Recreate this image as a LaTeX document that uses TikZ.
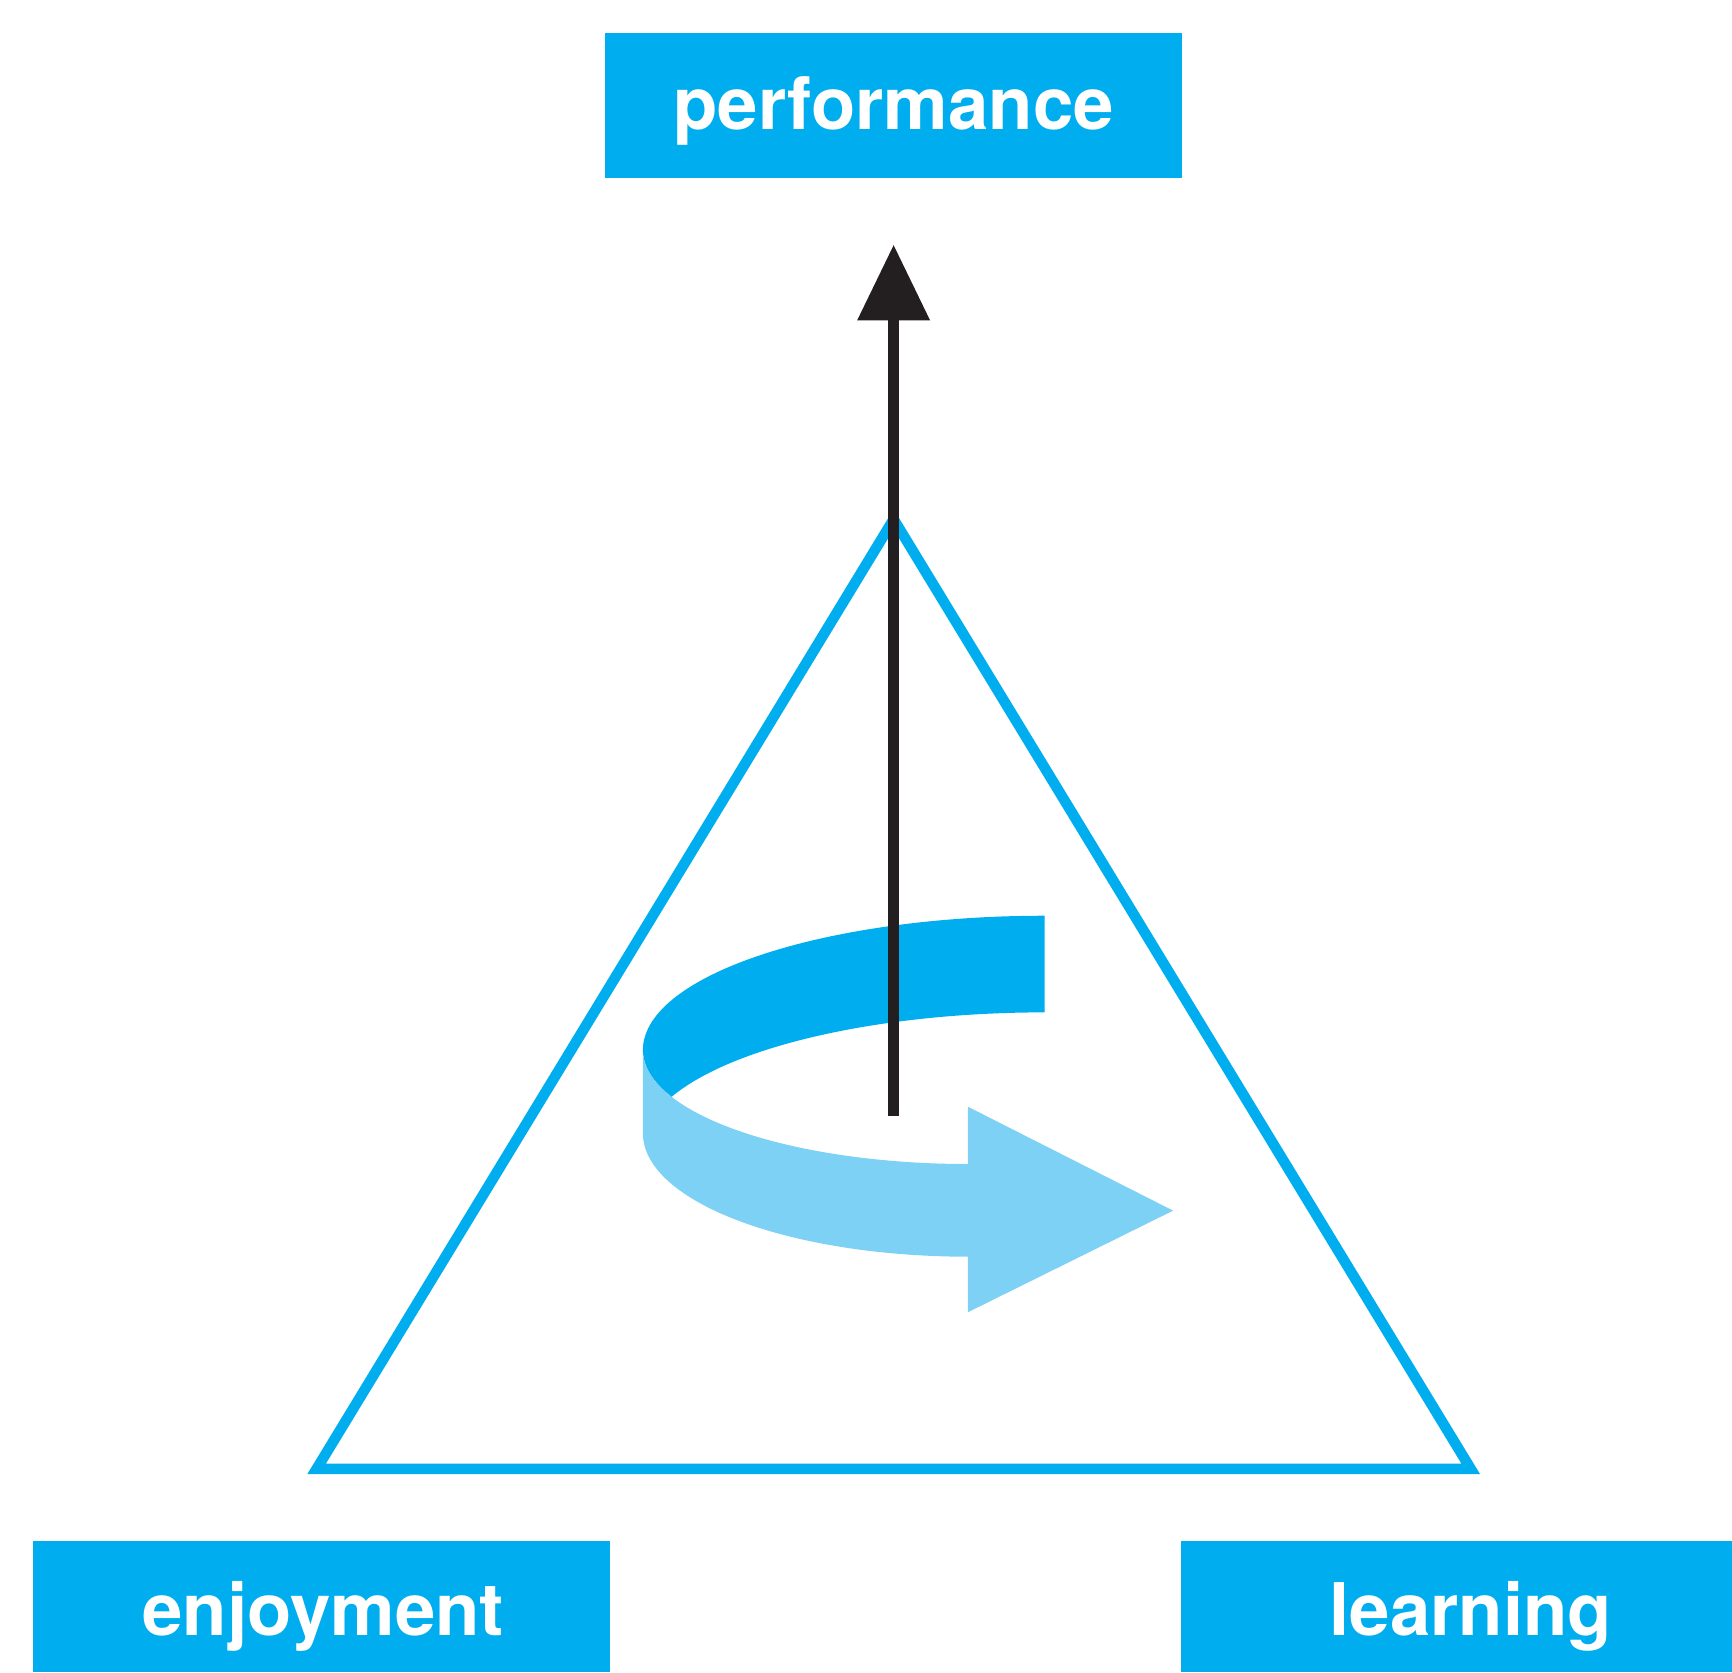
\documentclass[tikz,border=0pt]{standalone}
\usepackage{fontspec}
\setmainfont{TeX Gyre Heros}
\definecolor{cyanA}{HTML}{00AEEF}
\definecolor{cyanB}{HTML}{7CD1F5}
\definecolor{inkblack}{HTML}{231F20}
\begin{document}
\begin{tikzpicture}[x=1pt,y=-1pt,
  box/.style={fill=cyanA, inner sep=0pt, outer sep=0pt, rectangle},
  lbltext/.style={text=white, font=\fontsize{65.7}{70}\selectfont\bfseries, anchor=base, inner sep=0pt}]
\useasboundingbox (0,0) rectangle (1568,1514);
% boxes
\node[box, minimum width=522pt, minimum height=131pt] (perfbox) at (809,95.5) {};
\node[lbltext] (perftext) at (809,117) {performance};
\node[box, minimum width=522pt, minimum height=119pt] (enjbox) at (291,1454.5) {};
\node[lbltext] (enjtext) at (292.5,1481) {enjoyment};
\node[box, minimum width=499pt, minimum height=119pt] (learnbox) at (1318.5,1454.5) {};
\node[lbltext] (learntext) at (1331.5,1481) {learning};
% triangle
\coordinate (apex) at (809,470.1);
\coordinate (bl) at (286.65,1329.75);
\coordinate (br) at (1331.45,1329.75);
\draw[cyanA, line width=9.5pt, line join=miter] (apex) -- (bl) -- (br) -- cycle;
% dark band
\fill[cyanA] plot[domain=270:180, samples=60, variable=\t] ({945.7+363.7*cos(\t)},{950.6+121.6*sin(\t)})
  -- plot[domain=180:155.73, samples=12, variable=\t] ({876.2+294.2*cos(\t)},{950.6+103.2*sin(\t)})
  -- plot[domain=201.8:270, samples=60, variable=\t] ({945.7+363.7*cos(\t)},{1038.1+121.6*sin(\t)})
  -- cycle;
% light band with arrowhead
\fill[cyanB] plot[domain=180:90, samples=60, variable=\t] ({876.2+294.2*cos(\t)},{950.6+103.2*sin(\t)})
  -- (876.2,1001.9) -- (1062,1096) -- (876.2,1188) -- (876.2,1137.7)
  -- plot[domain=90:180, samples=60, variable=\t] ({876.2+294.2*cos(\t)},{1026+111.7*sin(\t)})
  -- cycle;
% black arrow
\coordinate (shaftbot) at (809,1010);
\coordinate (shafttop) at (809,290);
\coordinate (tip) at (809,222);
\draw[inkblack, line width=10.5pt] (shaftbot) -- (shafttop);
\fill[inkblack] (tip) -- (776,290) -- (842,290) -- cycle;
\end{tikzpicture}
\end{document}
